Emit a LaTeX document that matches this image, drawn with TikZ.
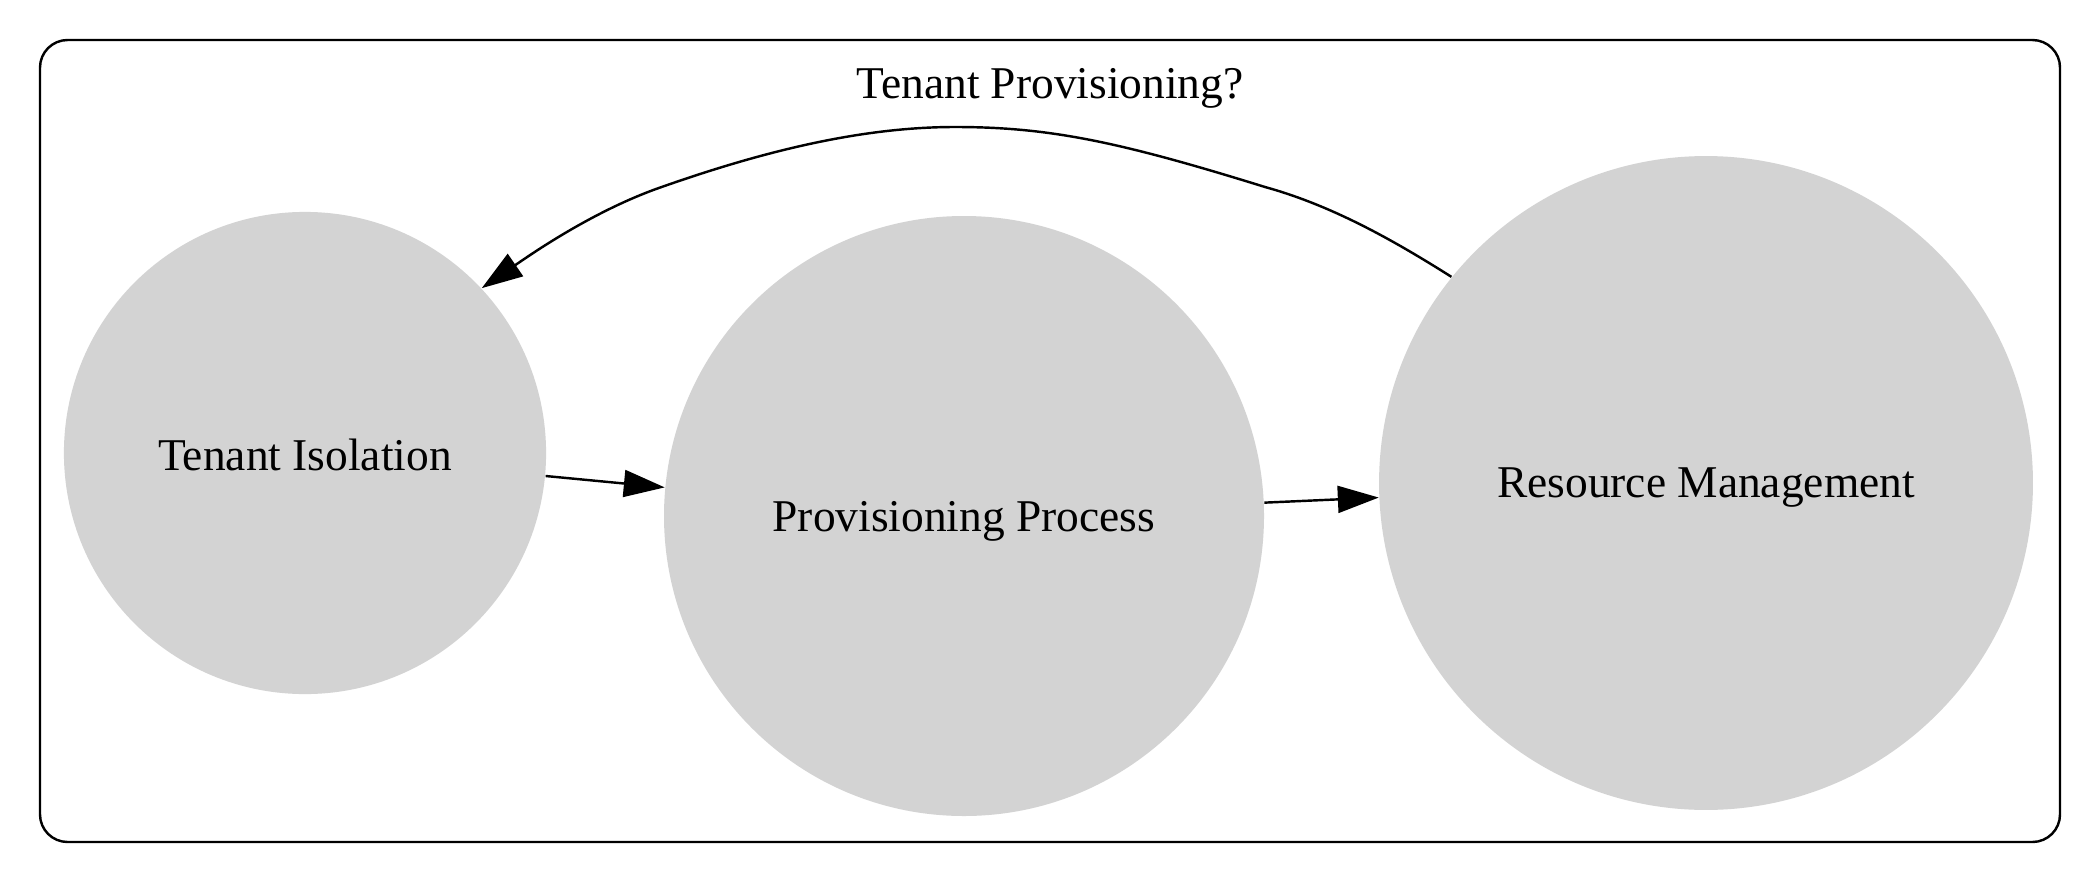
\documentclass[tikz,border=0pt]{standalone}
\usepackage{fontspec}
\setmainfont{Liberation Serif}
\usepackage{tikz}
\usetikzlibrary{shapes.geometric, arrows.meta}
\definecolor{nodegray}{RGB}{211,211,211}
\tikzstyle{state} = [circle, fill=nodegray, draw=none, inner sep=0pt, text depth=0pt, font=\fontsize{14}{16}\selectfont]
\tikzstyle{arrow} = [line width=0.75pt, -{Triangle[length=12.6pt,width=8.3pt]}]
\tikzstyle{frame} = [line width=0.75pt, rounded corners=8.5pt]

\begin{document}
\begin{tikzpicture}[x=0.308pt, y=-0.308pt]
    \useasboundingbox (0, 0) rectangle (2100, 882);
    \draw[frame] (40, 40) rectangle (2060, 842);
    \node [text depth=0pt, font=\fontsize{14}{16}\selectfont] (title) at (1050, 83) {Tenant Provisioning?};
    \node [state, minimum size=148.5pt, text height=11pt] (ti) at (305, 453) {Tenant Isolation};
    \node [state, minimum size=184.8pt] (pp) at (964, 516) {Provisioning Process};
    \node [state, minimum size=201.4pt] (rm) at (1706, 483) {Resource Management};
    \draw[arrow] (ti) -- (pp);
    \draw[arrow] (pp) -- (rm);
    \draw[arrow] (rm.141) .. controls (1390, 238) and (1330, 205) .. (1265, 187)
        .. controls (1120, 142) and (1050, 127) .. (955, 127)
        .. controls (860, 127) and (760, 152) .. (656, 189)
        .. controls (590, 213) and (530, 255) .. (ti.43);
\end{tikzpicture}
\end{document}
